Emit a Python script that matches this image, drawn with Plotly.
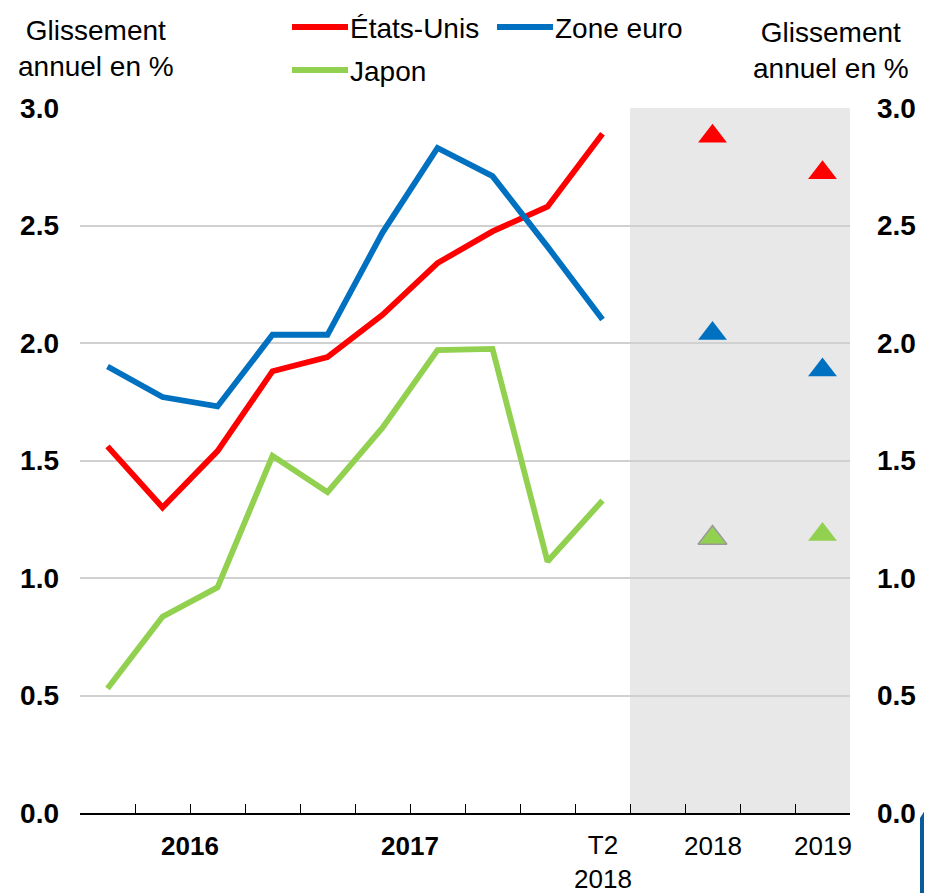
import plotly.graph_objects as go

# ---------------- data ----------------
quarters = ["T1 2016", "T2 2016", "T3 2016", "T4 2016",
            "T1 2017", "T2 2017", "T3 2017", "T4 2017",
            "T1 2018", "T2 2018"]
us = [1.56, 1.30, 1.54, 1.88, 1.94, 2.12, 2.34, 2.475, 2.58, 2.89]
ez = [1.90, 1.77, 1.73, 2.035, 2.035, 2.47, 2.83, 2.71, 2.41, 2.10]
jp = [0.53, 0.835, 0.96, 1.52, 1.365, 1.64, 1.97, 1.975, 1.07, 1.33]

forecast_years = ["2018", "2019"]
us_f = [2.88, 2.725]
ez_f = [2.04, 1.885]
jp_f = [1.17, 1.185]

series_names = ["États-Unis", "Zone euro", "Japon"]
y_ticks = [0.0, 0.5, 1.0, 1.5, 2.0, 2.5, 3.0]
y_title = "Glissement<br>annuel en %"

# ---------------- styles ----------------
RED, BLUE, GREEN = "#FF0000", "#0070C0", "#92D050"
FONT = "Liberation Sans, Arial, sans-serif"
OFF = 8                      # default page margin of the html body
W, H = 932 - OFF, 893 - OFF  # figure size so that it fills the window
ML, MR, MT, MB = 80 - OFF, 82, 108 - OFF, 80
PW, PH = W - ML - MR, H - MT - MB


def px(xp):   # window pixel -> paper x
    return (xp - OFF - ML) / PW


def py(yp):   # window pixel -> paper y
    return (H + OFF - MB - yp) / PH


nq = len(quarters)
xq = list(range(nq))
xf = [nq + 1 + 2 * i for i in range(len(forecast_years))]
x_min, x_max = -0.5, nq - 0.5 + 2 * len(forecast_years)

fig = go.Figure()
for name, vals, col in zip(series_names, [us, ez, jp], [RED, BLUE, GREEN]):
    fig.add_trace(go.Scatter(x=xq, y=vals, mode="lines", name=name,
                             line=dict(color=col, width=5.8),
                             showlegend=False))

for name, vals, col in zip(series_names, [us_f, ez_f, jp_f], [RED, BLUE, GREEN]):
    fig.add_trace(go.Scatter(
        x=xf, y=vals, mode="markers", name=name + " (prévision)",
        yaxis="y2", showlegend=False,
        marker=dict(symbol="triangle-up", size=25, color=col,
                    line=dict(width=[1.5 if col == GREEN else 0, 0],
                              color="#9A9A9A"))))

# shaded forecast area
fig.add_shape(type="rect", xref="x", yref="y", x0=nq - 0.5, x1=x_max,
              y0=y_ticks[0], y1=y_ticks[-1], fillcolor="#E8E8E8",
              line=dict(width=0), layer="below")

LBL = dict(family=FONT, size=26, color="black")

# x labels
years = sorted(set(q.split()[1] for q in quarters))
annos = []
for yr in years[:-1]:
    idx = [i for i, q in enumerate(quarters) if q.endswith(yr)]
    annos.append(dict(x=sum(idx) / len(idx), y=0, xref="x", yref="paper",
                      text="<b>%s</b>" % yr, showarrow=False, yanchor="middle",
                      yshift=-33, font=LBL))
annos.append(dict(x=xq[-1], y=0, xref="x", yref="paper",
                  text=quarters[-1].replace(" ", "<br>"), showarrow=False,
                  yanchor="middle", yshift=-49, font=LBL))
for xx, yr in zip(xf, forecast_years):
    annos.append(dict(x=xx, y=0, xref="x", yref="paper", text=yr,
                      showarrow=False, yanchor="middle", yshift=-33, font=LBL))

# axis titles
annos.append(dict(x=px(96), y=py(49), xref="paper", yref="paper", text=y_title,
                  showarrow=False, xanchor="center", yanchor="middle",
                  font=dict(family=FONT, size=28, color="black")))
annos.append(dict(x=px(831), y=py(51), xref="paper", yref="paper", text=y_title,
                  showarrow=False, xanchor="center", yanchor="middle",
                  font=dict(family=FONT, size=28, color="black")))

# manual legend
legend_items = [(series_names[0], RED, 292, 28), (series_names[1], BLUE, 497, 28),
                (series_names[2], GREEN, 292, 71)]
shapes = []
for name, col, x0, yy in legend_items:
    shapes.append(dict(type="line", xref="paper", yref="paper",
                       x0=px(x0), x1=px(x0 + 56), y0=py(yy - 1), y1=py(yy - 1),
                       line=dict(color=col, width=6)))
    annos.append(dict(x=px(x0 + 56), y=py(yy), xref="paper", yref="paper",
                      text=name, showarrow=False, xanchor="left", yanchor="middle",
                      font=dict(family=FONT, size=28, color="black")))

# corner decoration
shapes.append(dict(type="path", xref="paper", yref="paper",
                   path="M %f,%f L %f,%f L %f,%f L %f,%f Z" % (
                       px(920), py(818), px(932), py(799), px(932), py(893), px(920), py(893)),
                   fillcolor="#0A5C99", line=dict(width=0)))

for s in shapes:
    fig.add_shape(**s)

fig.update_layout(
    width=W, height=H, margin=dict(l=ML, r=MR, t=MT, b=MB, autoexpand=False),
    paper_bgcolor="white", plot_bgcolor="white",
    font=dict(family=FONT, color="black"),
    annotations=annos,
    xaxis=dict(range=[x_min, x_max], tickmode="linear", tick0=x_min, dtick=1,
               ticks="inside", ticklen=9, tickwidth=1.3, tickcolor="black",
               showticklabels=False, showgrid=False, zeroline=False,
               showline=True, linecolor="black", linewidth=1.5, automargin=False),
    yaxis=dict(range=[y_ticks[0], y_ticks[-1]], tickvals=y_ticks,
               ticktext=["%.1f" % v for v in y_ticks],
               showgrid=True, gridcolor="#D0D0D0", gridwidth=2,
               zeroline=False, showline=False, ticks="", automargin=False,
               tickfont=dict(family=FONT, size=28, color="black", weight="bold"),
               ticklabelstandoff=20),
    yaxis2=dict(range=[y_ticks[0], y_ticks[-1]], tickvals=y_ticks,
                ticktext=["%.1f" % v for v in y_ticks],
                overlaying="y", side="right", anchor="x", automargin=False,
                showgrid=False, zeroline=False, showline=False, ticks="",
                tickfont=dict(family=FONT, size=28, color="black", weight="bold"),
                ticklabelstandoff=26),
)

fig.write_html("out.html",
               post_script="document.documentElement.style.overflow='hidden';"
                           "document.body.style.overflow='hidden';")
